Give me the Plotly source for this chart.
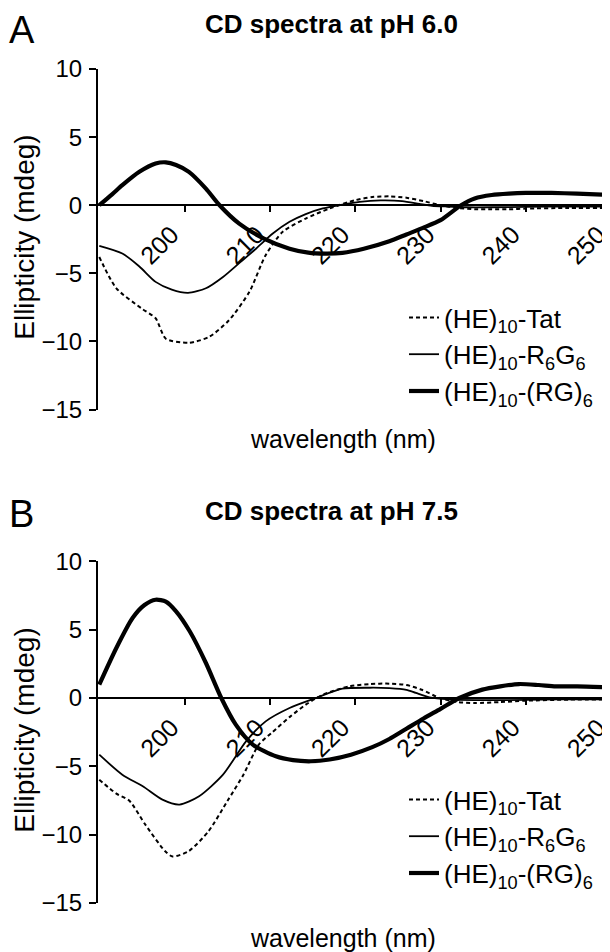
import plotly.graph_objects as go

# ---------------- data ----------------
# Panel A: pH 6.0
a_tat_x = [190, 192, 195, 196.6, 197.8, 200.5, 202.9, 205.2, 207.6, 209.5, 211.5, 214.2, 217, 220, 222, 224, 226, 228, 230, 232, 234, 236, 238, 240, 245, 250]
a_tat_y = [-3.8, -6.1, -7.6, -8.3, -9.8, -10.1, -9.66, -8.45, -6.35, -3.67, -1.95, -0.98, -0.24, 0.37, 0.6, 0.65, 0.55, 0.3, 0.0, -0.2, -0.3, -0.3, -0.3, -0.25, -0.2, -0.2]

a_r6g6_x = [190, 192.7, 194.7, 196.6, 198.5, 200.4, 202.5, 204.5, 206.5, 208.4, 210.3, 212.3, 214.2, 216.2, 218.5, 220.5, 223, 225.5, 227.5, 229, 231, 233, 236, 240, 245, 250]
a_r6g6_y = [-2.99, -3.55, -4.5, -5.63, -6.2, -6.44, -6.1, -5.27, -4.2, -3.18, -2.1, -1.22, -0.65, -0.24, 0.05, 0.25, 0.35, 0.3, 0.1, -0.05, -0.1, -0.15, -0.15, -0.12, -0.1, -0.1]

a_rg6_x = [190, 191.5, 192.7, 194.7, 196.6, 197.8, 199, 200.5, 202.5, 204.1, 206.4, 209.3, 212.3, 214.5, 216.5, 218.5, 221, 224, 226, 228, 230, 232.4, 234, 236, 238, 240, 243, 246, 250]
a_rg6_y = [0, 0.8, 1.47, 2.45, 3.06, 3.15, 2.95, 2.45, 1.22, 0, -1.35, -2.45, -3.19, -3.48, -3.55, -3.5, -3.2, -2.65, -2.15, -1.65, -1.1, 0, 0.5, 0.75, 0.85, 0.9, 0.9, 0.85, 0.75]

# Panel B: pH 7.5
b_tat_x = [190, 192, 193.5, 195.4, 197.7, 198.6, 200.5, 202.8, 205, 206.9, 208.7, 210.3, 212.3, 214.2, 216.2, 219.3, 221.7, 224, 226, 227.8, 229.9, 232, 234, 237, 240, 245, 250]
b_tat_y = [-5.98, -7.0, -7.5, -9.27, -11.2, -11.6, -11.2, -9.75, -7.56, -5.61, -3.41, -2.5, -1.4, -0.49, 0.24, 0.85, 1.02, 1.05, 0.95, 0.6, 0, -0.3, -0.37, -0.3, -0.2, -0.12, -0.12]

b_r6g6_x = [190, 192.7, 195.1, 197.4, 199.4, 201.7, 204.5, 207.2, 209.5, 212.3, 215.4, 218.5, 221.7, 224, 226, 227.1, 228.7, 231, 234, 238, 242, 246, 250]
b_r6g6_y = [-4.15, -5.61, -6.46, -7.44, -7.8, -7.19, -5.61, -3.17, -1.71, -0.73, 0, 0.68, 0.75, 0.72, 0.6, 0.37, 0.05, -0.1, -0.15, -0.15, -0.12, -0.1, -0.1]

b_rg6_x = [190, 192, 193.9, 195.3, 196.6, 197.8, 199, 200.6, 202.5, 204.3, 206, 208, 210.7, 212.7, 214.8, 217, 219.5, 222, 224, 226, 228, 230, 232.2, 234.9, 237, 239.2, 241.5, 243.5, 246, 250]
b_rg6_y = [0.98, 3.66, 5.85, 6.8, 7.19, 7.05, 6.34, 4.88, 2.56, 0, -1.95, -3.41, -4.27, -4.55, -4.63, -4.5, -4.15, -3.6, -3.0, -2.25, -1.5, -0.8, 0, 0.61, 0.85, 1.02, 0.95, 0.85, 0.85, 0.78]

series_names = ["(HE)<sub>10</sub>-Tat", "(HE)<sub>10</sub>-R<sub>6</sub>G<sub>6</sub>", "(HE)<sub>10</sub>-(RG)<sub>6</sub>"]
panel_titles = ["CD spectra at pH 6.0", "CD spectra at pH 7.5"]
panel_letters = ["A", "B"]
x_ticks = [200, 210, 220, 230, 240, 250]
y_ticks = [-15, -10, -5, 0, 5, 10]
x_title = "wavelength (nm)"
y_title = "Ellipticity (mdeg)"

# ---------------- layout geometry ----------------
W, H = 610, 952
FONT = "Liberation Sans, Arial, Helvetica, sans-serif"
x_dom = [90 / W, 1.0]
yA_dom = [1 - 401.5 / H, 1 - 61 / H]
yB_dom = [1 - 895 / H, 1 - 553.3 / H]
y_range = [-15, 10]
x_range = [189.85, 250.8]

styles = [
    dict(color="black", width=2, dash="4px,3px"),
    dict(color="black", width=1.8),
    dict(color="black", width=4.2),
]

fig = go.Figure()
panels = [
    ("x", "y", "legend", [(a_tat_x, a_tat_y), (a_r6g6_x, a_r6g6_y), (a_rg6_x, a_rg6_y)]),
    ("x2", "y2", "legend2", [(b_tat_x, b_tat_y), (b_r6g6_x, b_r6g6_y), (b_rg6_x, b_rg6_y)]),
]
for xa, ya, lg, data in panels:
    for i, (xs, ys) in enumerate(data):
        fig.add_trace(go.Scatter(
            x=xs, y=ys, mode="lines", name=series_names[i],
            line=dict(shape="spline", smoothing=0.7, **styles[i]),
            xaxis=xa, yaxis=ya, legend=lg,
            showlegend=True,
        ))


def xaxis_cfg(ydom):
    pos = ydom[0] + (0 - y_range[0]) / (y_range[1] - y_range[0]) * (ydom[1] - ydom[0])
    return dict(
        domain=x_dom, range=x_range, anchor="free", position=pos,
        showline=True, linecolor="black", linewidth=2,
        ticks="outside", ticklen=6, tickwidth=2, tickcolor="black",
        tickvals=x_ticks, tickangle=-45, ticklabeloverflow="allow",
        ticklabelshift=-13, ticklabelstandoff=-2,
        tickfont=dict(family=FONT, size=25, color="black"),
        showgrid=False, zeroline=False, automargin=False,
    )


def yaxis_cfg(ydom, anchor_x):
    return dict(
        domain=ydom, range=y_range, anchor=anchor_x,
        showline=True, linecolor="black", linewidth=2,
        ticks="outside", ticklen=7, tickwidth=2, tickcolor="black",
        tickvals=y_ticks, ticklabelstandoff=2,
        tickfont=dict(family=FONT, size=24, color="black"),
        showgrid=False, zeroline=False, automargin=False,
    )


legend_common = dict(
    font=dict(family=FONT, size=26, color="black"),
    bgcolor="rgba(0,0,0,0)", borderwidth=0,
    xanchor="left", yanchor="top",
    itemwidth=30,
)

fig.update_layout(
    width=W, height=H,
    margin=dict(l=0, r=0, t=0, b=0, autoexpand=False),
    paper_bgcolor="white", plot_bgcolor="white",
    xaxis=xaxis_cfg(yA_dom), xaxis2=xaxis_cfg(yB_dom),
    yaxis=yaxis_cfg(yA_dom, "x"), yaxis2=yaxis_cfg(yB_dom, "x2"),
    legend=dict(x=396 / W, y=1 - 286 / H, **legend_common),
    legend2=dict(x=396 / W, y=1 - 768 / H, **legend_common),
    showlegend=True,
)

annotations = []
for k, (ttl_top, letter_top, xt_y, ydom) in enumerate([
    (0, 0, 431, yA_dom), (487, 484, 930, yB_dom)
]):
    annotations.append(dict(text=f"<b>{panel_titles[k]}</b>", x=323 / W, y=1 - ttl_top / H,
                            xref="paper", yref="paper", showarrow=False, borderpad=0,
                            xanchor="center", yanchor="top",
                            font=dict(family=FONT, size=26, color="black")))
    annotations.append(dict(text=panel_letters[k], x=0.0, y=1 - letter_top / H,
                            xref="paper", yref="paper", showarrow=False, borderpad=0,
                            xanchor="left", yanchor="top",
                            font=dict(family=FONT, size=38, color="black")))
    annotations.append(dict(text=x_title, x=335 / W, y=1 - xt_y / H,
                            xref="paper", yref="paper", showarrow=False,
                            xanchor="center", yanchor="middle",
                            font=dict(family=FONT, size=25, color="black")))
    annotations.append(dict(text=y_title, x=0.0, y=(ydom[0] + ydom[1]) / 2 + 2 / H,
                            xref="paper", yref="paper", showarrow=False, textangle=-90,
                            borderpad=0, xanchor="left", yanchor="middle",
                            font=dict(family=FONT, size=28, color="black")))
fig.update_layout(annotations=annotations)

fig.write_html("out.html")
